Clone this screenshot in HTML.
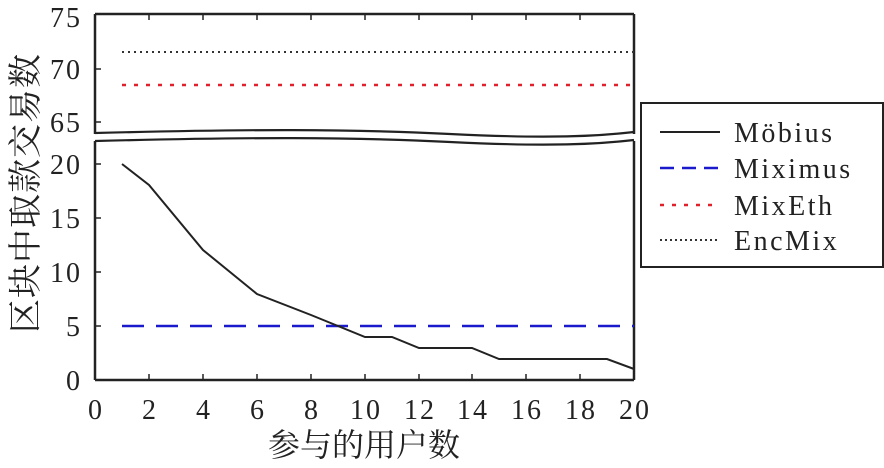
<!DOCTYPE html>
<html><head><meta charset="utf-8"><style>
body{margin:0;background:#fff}
svg text{font-family:"Liberation Serif","Noto Serif CJK SC",serif;fill:#222}
</style></head><body>
<svg width="884" height="463" viewBox="0 0 884 463">
<g stroke="#222" stroke-width="2.5" fill="none">
<line x1="95" y1="14" x2="634" y2="14"/>
<line x1="95" y1="14" x2="95" y2="380"/>
<line x1="95" y1="380" x2="634" y2="380"/>
<line x1="634" y1="14" x2="634" y2="380"/>
</g>
<rect x="90" y="134" width="550" height="7" fill="#fff"/>
<g stroke="#222" stroke-width="2.2" fill="none">
<path d="M95 133 C250 129 350 129 450 134 S600 136 634 132"/>
<path d="M95 141 C250 137 350 137 450 142 S600 144 634 140"/>
</g>
<g stroke="#222" stroke-width="1.5">
<line x1="149" y1="14" x2="149" y2="20"/><line x1="203" y1="14" x2="203" y2="20"/><line x1="257" y1="14" x2="257" y2="20"/><line x1="311" y1="14" x2="311" y2="20"/><line x1="365" y1="14" x2="365" y2="20"/><line x1="419" y1="14" x2="419" y2="20"/><line x1="472" y1="14" x2="472" y2="20"/><line x1="526" y1="14" x2="526" y2="20"/><line x1="580" y1="14" x2="580" y2="20"/>
<line x1="149" y1="380" x2="149" y2="374"/><line x1="203" y1="380" x2="203" y2="374"/><line x1="257" y1="380" x2="257" y2="374"/><line x1="311" y1="380" x2="311" y2="374"/><line x1="365" y1="380" x2="365" y2="374"/><line x1="419" y1="380" x2="419" y2="374"/><line x1="472" y1="380" x2="472" y2="374"/><line x1="526" y1="380" x2="526" y2="374"/><line x1="580" y1="380" x2="580" y2="374"/>
<line x1="95" y1="69" x2="101" y2="69"/><line x1="95" y1="122" x2="101" y2="122"/>
<line x1="95" y1="164" x2="101" y2="164"/><line x1="95" y1="218" x2="101" y2="218"/><line x1="95" y1="272" x2="101" y2="272"/><line x1="95" y1="326" x2="101" y2="326"/>
</g>
<line x1="122" y1="52" x2="634" y2="52" stroke="#333" stroke-width="2" stroke-dasharray="2,4"/>
<line x1="122" y1="85" x2="634" y2="85" stroke="#e0202a" stroke-width="2.5" stroke-dasharray="4,8"/>
<line x1="122" y1="326" x2="634" y2="326" stroke="#1a1acc" stroke-width="2.5" stroke-dasharray="22,12"/>
<polyline fill="none" stroke="#222" stroke-width="2" points="122,164 149,185 203,250 257,294 311,315 365,337 392,337 419,348 472,348 499,359 607,359 634,369"/>
<g font-size="28" text-anchor="end" letter-spacing="2">
<text x="82" y="27">75</text><text x="82" y="79">70</text><text x="82" y="132">65</text>
<text x="82" y="174">20</text><text x="82" y="228">15</text><text x="82" y="282">10</text><text x="82" y="336">5</text><text x="82" y="390">0</text>
</g>
<g font-size="28" text-anchor="middle" letter-spacing="2">
<text x="96" y="419">0</text><text x="150" y="419">2</text><text x="204" y="419">4</text><text x="258" y="419">6</text><text x="312" y="419">8</text><text x="366" y="419">10</text><text x="420" y="419">12</text><text x="473" y="419">14</text><text x="527" y="419">16</text><text x="581" y="419">18</text><text x="635" y="419">20</text>
</g>
<text x="364" y="456" font-size="32" text-anchor="middle">参与的用户数</text>
<text transform="translate(37,193) rotate(-90)" font-size="34" text-anchor="middle" letter-spacing="1">区块中取款交易数</text>
<rect x="641" y="103" width="242" height="164" fill="#fff" stroke="#222" stroke-width="2"/>
<line x1="660" y1="132" x2="720" y2="132" stroke="#222" stroke-width="2"/>
<line x1="660" y1="168" x2="720" y2="168" stroke="#1a1acc" stroke-width="2.5" stroke-dasharray="14,8"/>
<line x1="660" y1="205" x2="720" y2="205" stroke="#e0202a" stroke-width="2.5" stroke-dasharray="4,8"/>
<line x1="660" y1="240" x2="720" y2="240" stroke="#333" stroke-width="2" stroke-dasharray="2,3"/>
<g font-size="28" letter-spacing="2.5">
<text x="734" y="142">Möbius</text><text x="734" y="178">Miximus</text><text x="734" y="215">MixEth</text><text x="734" y="250">EncMix</text>
</g>
</svg>
</body></html>
